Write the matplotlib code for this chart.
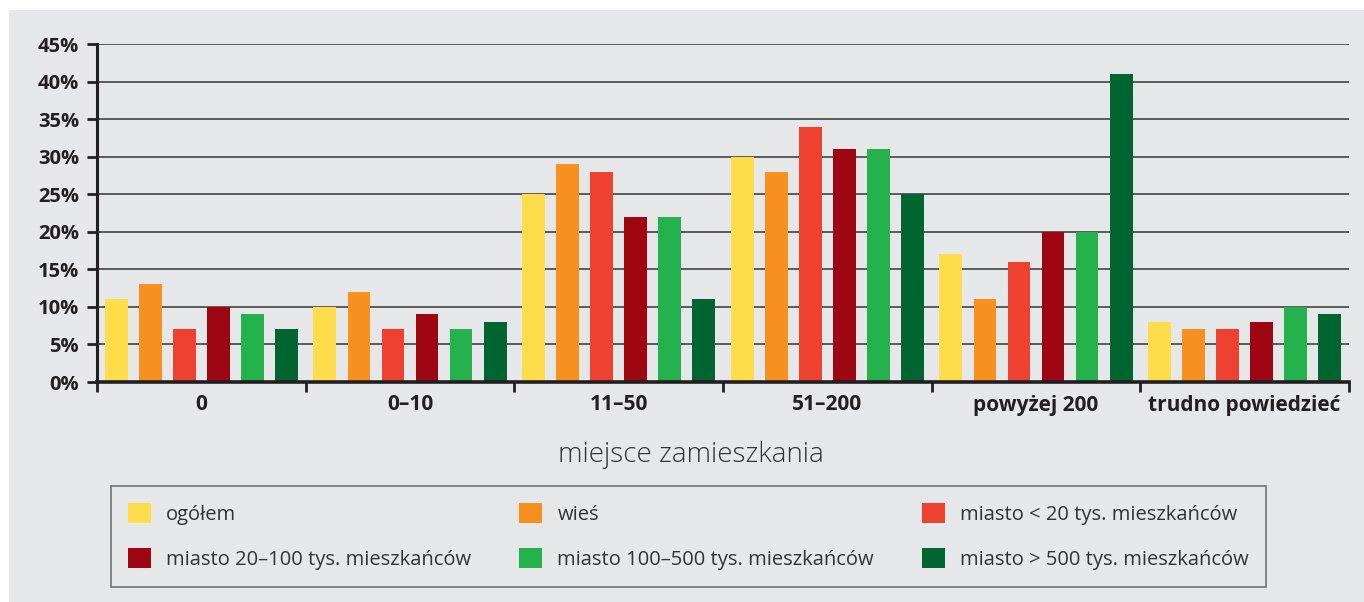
import matplotlib
matplotlib.use("Agg")
import matplotlib.pyplot as plt
import numpy as np
from matplotlib.patches import Patch, Rectangle

categories = ["0", "0–10", "11–50", "51–200", "powyżej 200", "trudno powiedzieć"]
series_names = ["ogółem", "wieś", "miasto < 20 tys. mieszkańców",
                "miasto 20–100 tys. mieszkańców", "miasto 100–500 tys. mieszkańców",
                "miasto > 500 tys. mieszkańców"]
ogolem = [11, 10, 25, 30, 17, 8]
wies = [13, 12, 29, 28, 11, 7]
miasto_lt20 = [7, 7, 28, 34, 16, 7]
miasto_20_100 = [10, 9, 22, 31, 20, 8]
miasto_100_500 = [9, 7, 22, 31, 20, 10]
miasto_gt500 = [7, 8, 11, 25, 41, 9]
series = [ogolem, wies, miasto_lt20, miasto_20_100, miasto_100_500, miasto_gt500]
colors = ["#FFDD4A", "#F7901E", "#EF4130", "#9E0711", "#23B24B", "#006530"]
yticks = [0, 5, 10, 15, 20, 25, 30, 35, 40, 45]

plt.rcParams['font.family'] = ['Open Sans', 'DejaVu Sans']
txt = "#231f20"
bg = "#E6E7E8"

fig = plt.figure(figsize=(13.64, 6.02), dpi=100, facecolor="white")
fig.patches.append(Rectangle((9/1364, 0), 1 - 9/1364, 1 - 10/602, transform=fig.transFigure,
                             facecolor=bg, edgecolor="none", zorder=-10))

ax = fig.add_axes([97/1364, 220/602, (1349-97)/1364, 338/602])
ax.set_facecolor("none")

slot = 0.163
width = 0.11
x = np.arange(len(categories))
for j, (vals, c) in enumerate(zip(series, colors)):
    ax.bar(x + 0.5 + (j - 2.5) * slot, vals, width=width, color=c, zorder=3,
           label=series_names[j])

ax.set_xlim(0, 6)
ax.set_ylim(0, 45)
ax.set_yticks(yticks)
ax.set_yticklabels([f"{v}%" for v in yticks], fontsize=14.5, fontweight="bold", color=txt)
for v in yticks[1:]:
    ax.axhline(v, color="#333333", lw=1.1, zorder=1)

ax.set_xticks(np.arange(0, 7))
ax.set_xticklabels([])
ax.set_xticks(x + 0.5, minor=True)
ax.set_xticklabels(categories, minor=True, fontsize=15, fontweight="bold", color=txt)
ax.tick_params(axis="x", which="major", length=7, width=2, color=txt, direction="out")
ax.tick_params(axis="x", which="minor", length=0, pad=9)
ax.tick_params(axis="y", length=7, width=2, color=txt, pad=6)

for s in ["top", "right"]:
    ax.spines[s].set_visible(False)
ax.spines["left"].set_linewidth(2.2)
ax.spines["left"].set_color(txt)
ax.spines["bottom"].set_linewidth(2.6)
ax.spines["bottom"].set_color(txt)
ax.spines["bottom"].set_zorder(5)

fig.text(691/1364, 1 - 455/602, "miejsce zamieszkania", ha="center", va="center",
         fontsize=20, color="#333333", fontweight="light")

order = [0, 3, 1, 4, 2, 5]
handles = [Patch(facecolor=colors[i], edgecolor="none") for i in order]
labels = [series_names[i] for i in order]
leg = fig.legend(handles, labels, loc="upper left",
                 bbox_to_anchor=(111/1364, 1 - 486/602), ncol=3,
                 fontsize=14.5, frameon=True, fancybox=False,
                 handlelength=1.13, handleheight=1.13, handletextpad=0.75,
                 columnspacing=2.4, labelspacing=1.15, borderpad=0.85,
                 borderaxespad=0)
leg.get_frame().set_facecolor(bg)
leg.get_frame().set_edgecolor("#555555")
leg.get_frame().set_linewidth(1.2)
for t in leg.get_texts():
    t.set_color("#333333")

fig.savefig("out.png", dpi=100, facecolor=fig.get_facecolor())
